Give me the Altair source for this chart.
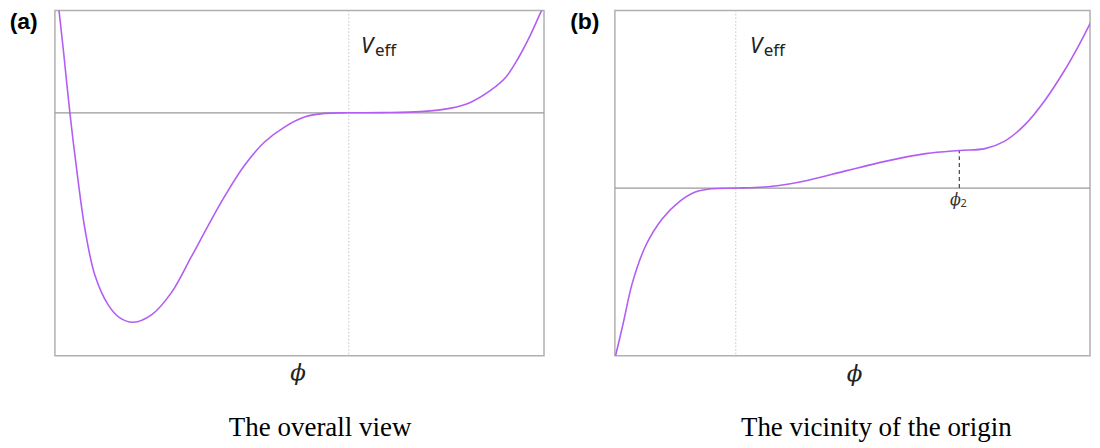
import altair as alt
import pandas as pd

# Panel (a): overall view of V_eff(phi)
a_phi = [-2.912, -2.857, -2.794, -2.727, -2.644, -2.544, -2.41, -2.297, -2.16, -1.977,
         -1.777, -1.577, -1.41, -1.244, -1.044, -0.844, -0.644, -0.444, -0.244, 0.0,
         0.323, 0.723, 1.023, 1.223, 1.423, 1.573, 1.703, 1.823, 1.923, 1.973]
a_V = [1.107, 0.607, 0.0, -0.56, -1.16, -1.626, -1.926, -2.053, -2.10, -2.026,
       -1.803, -1.443, -1.133, -0.838, -0.526, -0.293, -0.143, -0.043, -0.006, 0.0,
       0.002, 0.012, 0.047, 0.107, 0.227, 0.357, 0.557, 0.787, 1.007, 1.107]

# Panel (b): vicinity of the origin
b_phi = [-1.217, -1.144, -1.044, -0.91, -0.744, -0.577, -0.41, -0.244, 0.0, 0.323,
         0.523, 0.723, 1.123, 1.523, 1.923, 2.263, 2.523, 2.723, 2.923, 3.123,
         3.323, 3.473, 3.593]
b_V = [-1.68, -1.373, -0.94, -0.573, -0.307, -0.14, -0.04, -0.007, 0.0, 0.014,
       0.038, 0.075, 0.175, 0.27, 0.345, 0.377, 0.395, 0.47, 0.63, 0.87,
       1.17, 1.43, 1.66]
phi2_x = 2.263
phi2_top = 0.377

a_xdom, a_ydom = [-2.944, 1.956], [-2.436, 1.027]
b_xdom, b_ydom = [-1.224, 3.586], [-1.68, 1.78]

PURPLE = "#b25ef4"
GRAY = "#9a9a9a"


def txt(xd, yd, rows, **mk):
    X = alt.X("phi:Q", scale=alt.Scale(domain=xd, nice=False, zero=False), axis=None)
    Y = alt.Y("V:Q", scale=alt.Scale(domain=yd, nice=False, zero=False), axis=None)
    df = pd.DataFrame(rows, columns=["phi", "V", "t"])
    return alt.Chart(df).mark_text(**mk).encode(x=X, y=Y, text="t:N")


def panel(phis, vs, xd, yd, w, h, tag, caption, tag_pos, veff_pos, phi_pos, cap_pos, extra=None):
    X = alt.X("phi:Q", scale=alt.Scale(domain=xd, nice=False, zero=False), axis=None)
    Y = alt.Y("V:Q", scale=alt.Scale(domain=yd, nice=False, zero=False), axis=None)
    curve = alt.Chart(pd.DataFrame({"phi": phis, "V": vs})).mark_line(
        color=PURPLE, strokeWidth=1.6, interpolate="catmull-rom", clip=True
    ).encode(x=X, y=Y)
    hline = alt.Chart(pd.DataFrame({"V": [0.0]})).mark_rule(
        color=GRAY, strokeWidth=1.3
    ).encode(y=Y)
    vline = alt.Chart(pd.DataFrame({"phi": [0.0]})).mark_rule(
        color="#c4c4c4", strokeWidth=1, strokeDash=[1.5, 2]
    ).encode(x=X)
    layers = [vline, hline]
    if extra is not None:
        layers.append(extra(X, Y))
    layers.append(curve)
    layers += [
        txt(xd, yd, [(tag_pos[0], tag_pos[1], tag)], align="left", baseline="alphabetic",
            font="Liberation Sans", fontSize=23, fontWeight="bold", color="black"),
        txt(xd, yd, [(veff_pos[0], veff_pos[1], "V")], align="left", baseline="alphabetic",
            font="Noto Sans", fontSize=22, fontStyle="italic", color="#222"),
        txt(xd, yd, [(veff_pos[0] + 0.14, veff_pos[1] - 0.03, "eff")], align="left",
            baseline="alphabetic", font="Noto Sans", fontSize=17, color="#222"),
        txt(xd, yd, [(phi_pos[0], phi_pos[1], "ϕ")], align="center", baseline="middle",
            font="DejaVu Serif", fontSize=23, fontStyle="italic", color="#222"),
        txt(xd, yd, [(cap_pos[0], cap_pos[1], caption)], align="center",
            baseline="alphabetic", font="Liberation Serif", fontSize=27, color="black"),
    ]
    return alt.layer(*layers).properties(width=w, height=h)


def phi2_marks(X, Y):
    dash = alt.Chart(pd.DataFrame({"phi": [phi2_x], "V": [0.0], "V2": [phi2_top]})).mark_rule(
        color="#444", strokeWidth=1.2, strokeDash=[4, 3]
    ).encode(x=X, y=Y, y2="V2:Q")
    lab = txt(b_xdom, b_ydom, [(phi2_x - 0.04, -0.12, "ϕ")], align="center", baseline="middle",
              font="DejaVu Serif", fontSize=16, fontStyle="italic", color="#333")
    sub = txt(b_xdom, b_ydom, [(phi2_x + 0.045, -0.16, "2")], align="center", baseline="middle",
              font="Noto Sans", fontSize=11, color="#333")
    return alt.layer(dash, lab, sub)


pa = panel(a_phi, a_V, a_xdom, a_ydom, 490, 346, "(a)", "The overall view",
           (-3.397, 0.842), (0.123, 0.597), (-0.507, -2.613), (-0.287, -3.238))
pb = panel(b_phi, b_V, b_xdom, b_ydom, 476, 346, "(b)", "The vicinity of the origin",
           (-1.677, 1.595), (0.143, 1.35), (1.203, -1.86), (1.423, -2.485), extra=phi2_marks)

chart = alt.hconcat(pa, pb, spacing=71, bounds="flush").properties(
    padding=0, background="white"
).configure_view(stroke="#b0b0b0", strokeWidth=1.5)

chart.save("out.html", embed_options={"renderer": "svg", "actions": False})
